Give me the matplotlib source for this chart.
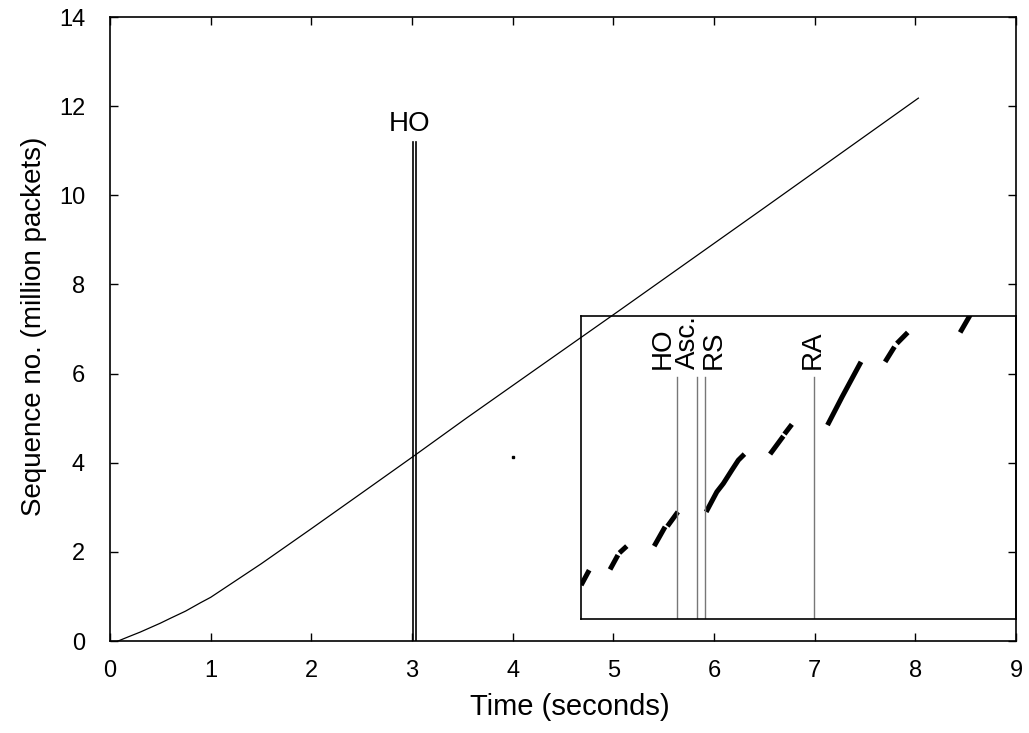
import numpy as np
import matplotlib.pyplot as plt

plt.rcParams["font.family"] = ["Liberation Sans", "DejaVu Sans"]
plt.rcParams["font.size"] = 20

# main trace: time (s) vs sequence number (million packets)
time_s = [0.08, 0.2, 0.3, 0.4, 0.5, 0.6, 0.75, 0.9, 1.0, 1.2, 1.5, 2.0, 2.5, 3.03,
          3.54, 4.2, 5.05, 6.5, 8.03]
seq_mpkt = [0.0, 0.11, 0.20, 0.30, 0.40, 0.51, 0.67, 0.86, 0.98, 1.28, 1.73, 2.52,
            3.32, 4.17, 5.0, 6.05, 7.4, 9.72, 12.18]
stray_pt = (4.0, 4.13)

# handover markers in the main plot
ho_lines = [3.005, 3.035]
ho_top = 11.2

# inset: zoom on the handover (ms, packets)
inset_segments = [
    ([0.0, 3.7], [33.7, 48.5]),
    ([13.3, 16.9], [49.2, 63.4]),
    ([17.6, 21.0], [65.6, 72.3]),
    ([33.6, 38.6], [72.3, 91.4]),
    ([39.7, 44.5], [92.0, 106.2]),
    ([57.5, 62.4, 65.4, 69.3, 72.3, 75.1], [106.2, 126.0, 134.3, 147.5, 157.4, 163.4]),
    ([86.9, 93.0], [163.4, 181.2]),
    ([93.5, 96.9], [183.2, 192.8]),
    ([113.3, 120.0, 128.7], [192.1, 220.0, 254.7]),
    ([139.8, 144.1], [254.7, 269.6]),
    ([145.2, 150.2], [272.9, 283.8]),
    ([174.3, 178.9], [283.8, 301.0]),
]
event_names = ["HO", "Asc.", "RS", "RA"]
event_times = [44.1, 53.3, 57.0, 107.0]
label_x = [37.5, 49.2, 61.2, 106.4]
event_top = 240
label_y = 248

fig = plt.figure(figsize=(10.29, 7.33), dpi=100)
ax = fig.add_axes([0.1069, 0.1255, 0.8805, 0.8513])

ax.plot(time_s, seq_mpkt, color="black", lw=0.9)
ax.plot(*stray_pt, "s", color="black", ms=1.5)
for x in ho_lines:
    ax.plot([x, x], [0, ho_top], color="black", lw=1.2)
ax.text(2.98, 11.31, "HO", ha="center", va="bottom")

ax.set_xlim(0, 9)
ax.set_ylim(0, 14)
ax.set_xticks(np.arange(0, 10, 1))
ax.set_yticks(np.arange(0, 15, 2))
ax.tick_params(direction="in", length=6, width=1, top=True, right=True, labelsize=17)
ax.tick_params(axis="x", pad=14)
ax.tick_params(axis="y", pad=18)
for s in ax.spines.values():
    s.set_linewidth(1.2)
ax.set_xlabel("Time (seconds)", fontsize=21)
ax.set_ylabel("Sequence no. (million packets)")
ax.xaxis.set_label_coords(0.508, -0.084)
ax.yaxis.set_label_coords(-0.07, 0.505)

ins = ax.inset_axes([4.68, 0.49, 4.32, 6.8], transform=ax.transData)
ins.set_facecolor("none")
ins.set_xlim(0, 200)
ins.set_ylim(0, 300)
ins.set_xticks([])
ins.set_yticks([])
for s in ins.spines.values():
    s.set_linewidth(1.2)
for xs, ys in inset_segments:
    ins.plot(xs, ys, color="black", lw=3.6, solid_capstyle="butt")
for name, t, lx in zip(event_names, event_times, label_x):
    ins.plot([t, t], [0, event_top], color="#777777", lw=1)
    ins.text(lx, label_y, name, rotation=90, ha="center", va="bottom")

fig.savefig("out.png", dpi=100)
